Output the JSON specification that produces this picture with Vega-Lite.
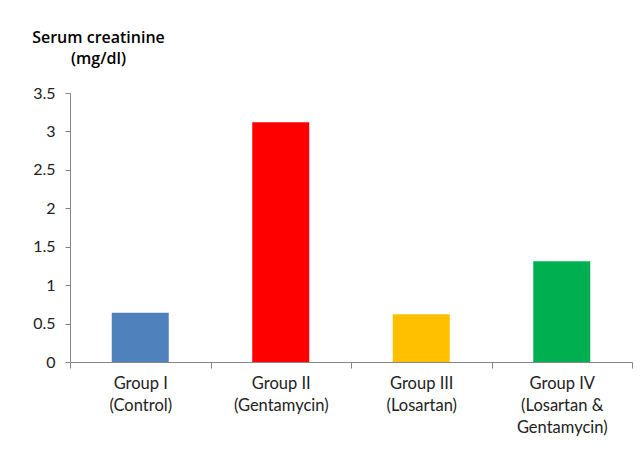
{
  "$schema": "https://vega.github.io/schema/vega-lite/v6.json",
  "autosize": "none",
  "padding": {"left": 70, "top": 93, "right": 9, "bottom": 92},
  "width": 562,
  "height": 269,
  "background": "white",
  "config": {
    "font": "Lato",
    "view": {"stroke": null}
  },
  "data": {
    "values": [
      {"group": "Group I|(Control)", "creatinine": 0.64},
      {"group": "Group II|(Gentamycin)", "creatinine": 3.12},
      {"group": "Group III|(Losartan)", "creatinine": 0.62},
      {"group": "Group IV|(Losartan &|Gentamycin)", "creatinine": 1.31}
    ]
  },
  "mark": {"type": "bar", "width": 57},
  "encoding": {
    "x": {
      "field": "group",
      "type": "nominal",
      "sort": null,
      "scale": {"paddingInner": 0, "paddingOuter": 0},
      "axis": {
        "title": null,
        "labelAngle": 0,
        "labelExpr": "split(datum.label, '|')",
        "labelFontSize": 16.5,
        "labelColor": "#222222",
        "labelLineHeight": 22,
        "labelPadding": 7,
        "labelBaseline": "top",
        "tickBand": "extent",
        "tickSize": 6,
        "tickColor": "#868686",
        "domainColor": "#868686",
        "labelFont": "Lato"
      }
    },
    "y": {
      "field": "creatinine",
      "type": "quantitative",
      "scale": {"domain": [0, 3.5], "nice": false},
      "axis": {
        "values": [0, 0.5, 1, 1.5, 2, 2.5, 3, 3.5],
        "format": "~g",
        "grid": false,
        "tickSize": 5,
        "tickColor": "#868686",
        "domainColor": "#868686",
        "labelFontSize": 16,
        "labelColor": "#222222",
        "labelPadding": 10,
        "title": ["Serum creatinine", "(mg/dl)"],
        "titleAngle": 0,
        "titleAlign": "center",
        "titleBaseline": "top",
        "titleX": 28,
        "titleY": -64,
        "titleFont": "Open Sans",
        "titleFontSize": 16,
        "titleFontWeight": 600,
        "titleColor": "#000000",
        "titleLineHeight": 21
      }
    },
    "color": {
      "field": "group",
      "type": "nominal",
      "sort": null,
      "legend": null,
      "scale": {"range": ["#4F81BD", "#FF0000", "#FFC000", "#00B050"]}
    }
  }
}
